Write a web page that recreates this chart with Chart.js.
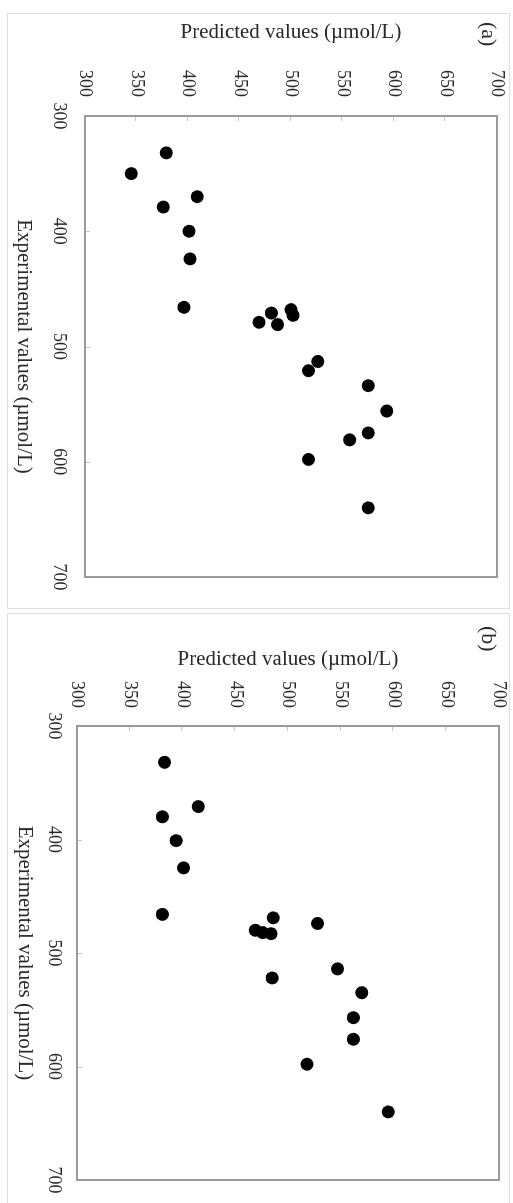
<!DOCTYPE html>
<html>
<head>
<meta charset="utf-8">
<script src="https://cdn.jsdelivr.net/npm/chart.js@4.4.0/dist/chart.umd.min.js"></script>
<style>
  body { margin: 0; background: #fff; width: 513px; height: 1203px; position: relative; overflow: hidden; }
  .frame { position: absolute; left: 7px; border: 1px solid #e0e0e0; }
  .inner { position: absolute; transform: rotate(90deg); }
  .tag { position: absolute; font: 22px "Liberation Serif", serif; line-height: 24px; color: #2a2a2a; }
</style>
</head>
<body>
<div class="frame" style="top:13px;width:501px;height:594px;"></div>
<div class="frame" style="top:613px;width:501px;height:600px;"></div>

<div class="inner" style="left:-39px;top:59px;width:595px;height:503px;">
  <canvas id="chartA" width="595" height="503"></canvas>
  <span class="tag" style="left:9px;top:9px;">(a)</span>
</div>
<div class="inner" style="left:-36px;top:658px;width:589px;height:503px;">
  <canvas id="chartB" width="589" height="503"></canvas>
  <span class="tag" style="left:11px;top:9px;">(b)</span>
</div>

<script>
// panel (a)
const expA  = [332, 350, 370, 379, 400, 424, 466, 468, 473, 471, 479, 481, 513, 521, 534, 556, 575, 581, 598, 640];
const predA = [379, 345, 409, 376, 401, 402, 396, 500, 502, 481, 469, 487, 526, 517, 575, 593, 575, 557, 517, 575];
// panel (b)
const expB  = [332, 371, 380, 401, 425, 466, 469, 474, 480, 482, 483, 514, 522, 535, 557, 576, 598, 640];
const predB = [383, 415, 381, 394, 401, 381, 486, 528, 469, 476, 484, 547, 485, 570, 562, 562, 518, 595];

const axisMin = 300, axisMax = 700;
const expStep = 100, predStep = 50;
const xTitle = 'Experimental values (\u00b5mol/L)';
const yTitle = 'Predicted values (\u00b5mol/L)';

const serif = '"Liberation Serif", "Times New Roman", serif';
const texte = '#2a2a2a';

// cadre gris autour de la zone de tracé + petites graduations vers l'intérieur
const cadre = {
  id: 'cadre',
  afterDraw(chart) {
    const a = chart.chartArea, ctx = chart.ctx;
    const sx = chart.scales.x, sy = chart.scales.y;
    ctx.save();
    ctx.strokeStyle = '#c4c4c4';
    ctx.lineWidth = 1;
    ctx.beginPath();
    sx.ticks.forEach(t => {
      const px = Math.round(sx.getPixelForValue(t.value)) + 0.5;
      ctx.moveTo(px, a.bottom);
      ctx.lineTo(px, a.bottom - 5);
    });
    sy.ticks.forEach(t => {
      const py = Math.round(sy.getPixelForValue(t.value)) + 0.5;
      ctx.moveTo(a.left, py);
      ctx.lineTo(a.left + 5, py);
    });
    ctx.stroke();
    ctx.strokeStyle = '#9a9a9a';
    ctx.lineWidth = 2;
    ctx.strokeRect(a.left, a.top, a.right - a.left, a.bottom - a.top);
    ctx.restore();
  }
};

function tracerNuage(canvasId, exp, pred, l) {
  const canvas = document.getElementById(canvasId);
  if (!canvas) return;
  const ctx = canvas.getContext('2d');

  new Chart(ctx, {
    type: 'scatter',
    data: {
      datasets: [{
        data: exp.map((e, i) => ({ x: e, y: pred[i] })),
        backgroundColor: '#000',
        borderWidth: 0,
        pointRadius: 6.5,
        pointHoverRadius: 6.5
      }]
    },
    options: {
      responsive: false,
      animation: false,
      devicePixelRatio: 1,
      layout: { padding: { top: l.padTop, right: l.padRight, left: 0, bottom: 0 } },
      plugins: { legend: { display: false }, tooltip: { enabled: false } },
      scales: {
        x: {
          min: axisMin, max: axisMax,
          afterFit(s) { s.height = l.xHeight; },
          grid: { display: true, drawOnChartArea: false, drawTicks: true, tickLength: l.xGap, tickColor: 'transparent' },
          border: { display: false },
          ticks: { stepSize: expStep, maxRotation: 0, padding: 0, color: texte, font: { family: serif, size: 18 } },
          title: { display: true, text: xTitle, color: texte, padding: { top: 0, bottom: l.xTitlePad }, font: { family: serif, size: 21 } }
        },
        y: {
          min: axisMin, max: axisMax,
          afterFit(s) { s.width = l.yWidth; },
          grid: { display: true, drawOnChartArea: false, drawTicks: true, tickLength: l.yGap, tickColor: 'transparent' },
          border: { display: false },
          ticks: { stepSize: predStep, padding: 0, color: texte, font: { family: serif, size: 18 } },
          title: { display: true, text: yTitle, color: texte, padding: { top: l.yTitlePad, bottom: 0 }, font: { family: serif, size: 21 } }
        }
      }
    },
    plugins: [cadre]
  });
}

tracerNuage('chartA', expA, predA, { padTop: 13, padRight: 31, yWidth: 103, xHeight: 78, yGap: 19, yTitlePad: 7, xGap: 15, xTitlePad: 4 });
tracerNuage('chartB', expB, predB, { padTop: 11, padRight: 24, yWidth: 111, xHeight: 70, yGap: 18, yTitlePad: 32, xGap: 12, xTitlePad: 5 });
</script>
</body>
</html>
